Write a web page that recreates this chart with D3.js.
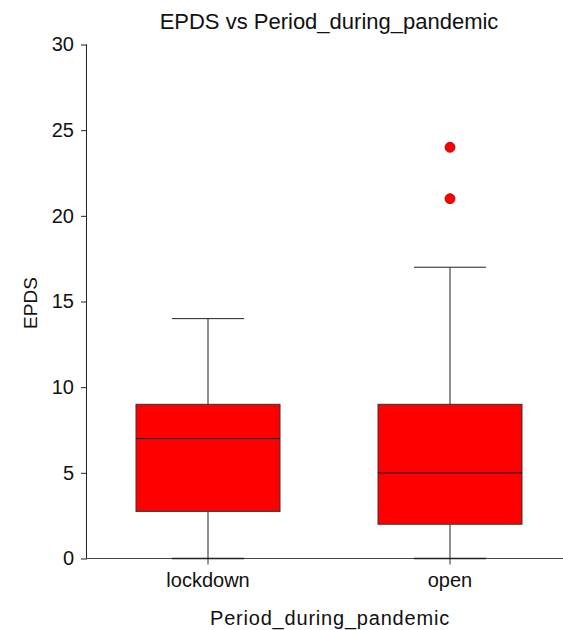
<!DOCTYPE html>
<html><head><meta charset="utf-8">
<script src="https://cdn.jsdelivr.net/npm/d3@7"></script>
<style>body{margin:0;background:#fff}svg{display:block;font-family:"Liberation Sans",Arial,sans-serif}</style>
</head><body><svg id="c" width="563" height="630"></svg>
<script>
const categories = ["lockdown", "open"];
const q1 = [2.75, 2];
const median = [7, 5];
const q3 = [9, 9];
const whiskerLow = [0, 0];
const whiskerHigh = [14, 17];
const outliers = [[], [21, 24]];
const yTicks = [0, 5, 10, 15, 20, 25, 30];

const svg = d3.select("#c");
const x = d3.scaleBand().domain(categories).range([87, 571]);
const y = d3.scaleLinear().domain([0, 30]).range([558.5, 44.5]);
const boxW = x.bandwidth() * 0.595;
const capW = boxW * 0.5;
const FF = "Liberation Sans, Arial, sans-serif";

// y axis
const ya = svg.append("g").attr("transform", "translate(87,0)")
  .call(d3.axisLeft(y).tickValues(yTicks).tickSize(6).tickPadding(7));
ya.select(".domain").attr("d", `M-0.5,${y(30)}V${y(0)}`).attr("stroke", "#222");
ya.selectAll(".tick line").attr("stroke", "#222");
ya.selectAll("text").attr("font-size", 20).attr("fill", "#111").attr("font-family", FF);

// x axis
const xa = svg.append("g").attr("transform", `translate(0,${y(0)})`)
  .call(d3.axisBottom(x).tickSize(6).tickPadding(8));
xa.select(".domain").attr("d", `M87,0H563`).attr("stroke", "#444");
xa.selectAll(".tick line").attr("stroke", "#333");
xa.selectAll("text").attr("font-size", 20).attr("fill", "#111").attr("font-family", FF);

const g = svg.append("g");
categories.forEach((c, i) => {
  const cx = x(c) + x.bandwidth() / 2;
  g.append("line").attr("x1", cx).attr("x2", cx).attr("y1", y(q3[i])).attr("y2", y(whiskerHigh[i])).attr("stroke", "#222");
  g.append("line").attr("x1", cx).attr("x2", cx).attr("y1", y(q1[i])).attr("y2", y(whiskerLow[i])).attr("stroke", "#222");
  g.append("line").attr("x1", cx - capW / 2).attr("x2", cx + capW / 2).attr("y1", y(whiskerHigh[i])).attr("y2", y(whiskerHigh[i])).attr("stroke", "#222");
  g.append("line").attr("x1", cx - capW / 2).attr("x2", cx + capW / 2).attr("y1", y(whiskerLow[i])).attr("y2", y(whiskerLow[i])).attr("stroke", "#222").attr("stroke-width", 1.5);
  g.append("rect").attr("x", cx - boxW / 2).attr("width", boxW)
    .attr("y", y(q3[i])).attr("height", y(q1[i]) - y(q3[i]))
    .attr("fill", "#ff0000").attr("stroke", "#333").attr("stroke-width", 1);
  g.append("line").attr("x1", cx - boxW / 2).attr("x2", cx + boxW / 2).attr("y1", y(median[i])).attr("y2", y(median[i])).attr("stroke", "#111");
  outliers[i].forEach(v => {
    g.append("circle").attr("cx", cx).attr("cy", y(v)).attr("r", 5)
      .attr("fill", "#ff0000").attr("stroke", "#a00000").attr("stroke-width", 0.8);
  });
});

svg.append("text").attr("x", 329).attr("y", 29).attr("text-anchor", "middle")
  .attr("font-size", 22).attr("fill", "#111").text("EPDS vs Period_during_pandemic");
svg.append("text").attr("transform", "translate(37,303) rotate(-90)").attr("text-anchor", "middle")
  .attr("font-size", 19).attr("fill", "#111").text("EPDS");
svg.append("text").attr("x", 330).attr("y", 625).attr("text-anchor", "middle")
  .attr("font-size", 20).attr("letter-spacing", 0.8).attr("fill", "#111").text("Period_during_pandemic");
</script></body></html>
